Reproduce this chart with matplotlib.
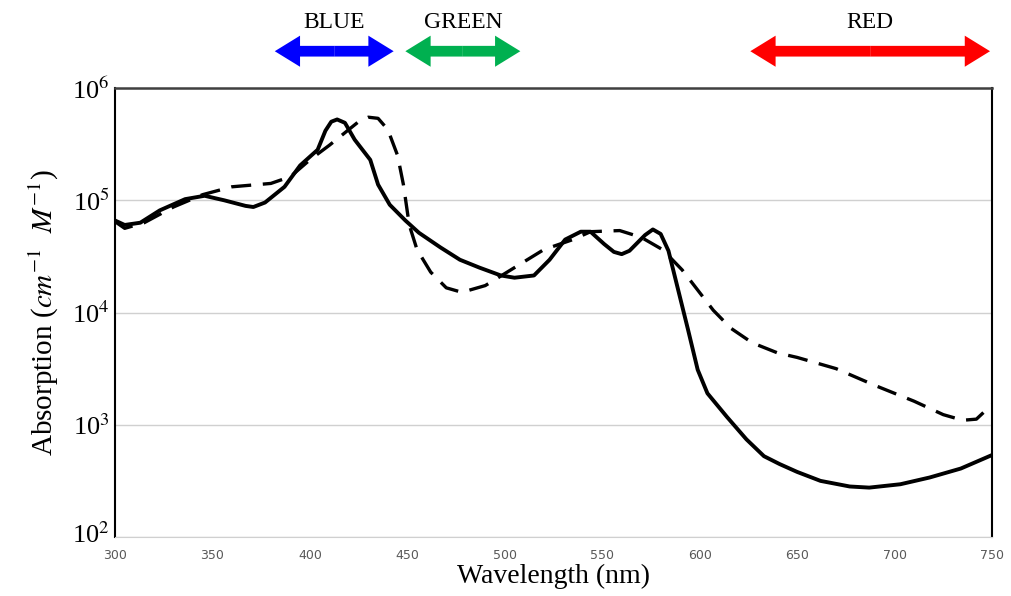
import matplotlib.pyplot as plt
from matplotlib.patches import FancyArrowPatch
from matplotlib.transforms import ScaledTranslation

# solid curve (wavelength nm, log10 absorption)
wl_solid = [300, 305, 313, 323, 336, 346, 356, 367, 371, 377, 387, 395, 404, 408, 411, 414,
            418, 423, 431, 435, 441, 449, 456, 467, 477, 487, 498, 505, 515, 523, 531,
            539, 544, 551, 556, 560, 564, 572, 576, 580, 584, 588, 594, 599, 604, 614, 624,
            633, 641, 650, 662, 677, 687, 703, 718, 734, 750]
log_solid = [4.82, 4.78, 4.80, 4.91, 5.01, 5.04, 5.00, 4.95, 4.94, 4.98, 5.12, 5.31, 5.45, 5.62, 5.70, 5.72,
             5.69, 5.54, 5.36, 5.14, 4.96, 4.82, 4.71, 4.58, 4.47, 4.40, 4.33, 4.31, 4.33, 4.47, 4.65,
             4.72, 4.72, 4.61, 4.54, 4.52, 4.55, 4.69, 4.74, 4.70, 4.55, 4.27, 3.85, 3.49, 3.28, 3.07, 2.87,
             2.72, 2.65, 2.58, 2.50, 2.45, 2.44, 2.47, 2.53, 2.61, 2.73]

# dashed curve
wl_dash = [300, 305, 315, 330, 345, 360, 380, 390, 400, 410, 420, 425, 430, 435, 440,
           445, 448, 451, 455, 462, 470, 478, 490, 505, 520, 535, 544, 559, 570, 581,
           591, 599, 607, 616, 627, 640, 650, 670, 690, 710, 725, 735, 742, 750]
log_dash = [4.81, 4.75, 4.80, 4.94, 5.05, 5.12, 5.15, 5.21, 5.36, 5.49, 5.63, 5.70, 5.74, 5.73, 5.63,
            5.40, 5.14, 4.78, 4.56, 4.36, 4.22, 4.18, 4.24, 4.40, 4.56, 4.65, 4.72, 4.73, 4.67, 4.56,
            4.38, 4.20, 4.02, 3.86, 3.73, 3.64, 3.60, 3.50, 3.35, 3.21, 3.09, 3.04, 3.05, 3.18]

bands = ["BLUE", "GREEN", "RED"]
band_colors = ["#0000ff", "#00b050", "#ff0000"]
band_start = [382, 449, 626]
band_end = [443, 508, 749]

plt.rcParams["font.family"] = ["Liberation Serif", "DejaVu Serif"]
plt.rcParams["mathtext.fontset"] = "stix"

fig = plt.figure(figsize=(10.11, 5.96), dpi=100)
ax = fig.add_axes([0.1137, 0.099, 0.8675, 0.7533])

ax.plot(wl_solid, [10 ** v for v in log_solid], color="black", lw=2.8,
        solid_joinstyle="round")
ax.plot(wl_dash, [10 ** v for v in log_dash], color="black", lw=2.4, ls=(0, (6, 3.5)))

ax.set_yscale("log")
ax.set_xlim(300, 750)
ax.set_ylim(1e2, 1e6)
ax.set_xticks(range(300, 751, 50))
ax.set_yticks([1e2, 1e3, 1e4, 1e5, 1e6])
ax.set_yticklabels([r"10$^{%d}$" % e for e in range(2, 7)])
ax.minorticks_off()
ax.grid(axis="y", color="#d0d0d0", lw=1)
ax.set_axisbelow(True)

for t in ax.get_xticklabels():
    t.set_fontfamily("DejaVu Sans")
    t.set_fontsize(9)
    t.set_color("#595959")
ax.tick_params(axis="x", length=0, pad=9)
ax.tick_params(axis="y", length=0, labelsize=19, pad=4)
# nudge the bottom exponent label up a few pixels so it clears the "300"
lab0 = ax.get_yticklabels()[0]
lab0.set_transform(lab0.get_transform() + ScaledTranslation(0, 3 / 72, fig.dpi_scale_trans))

ax.spines["left"].set_color("black")
ax.spines["left"].set_linewidth(1.5)
ax.spines["right"].set_color("black")
ax.spines["right"].set_linewidth(1.5)
ax.spines["top"].set_color("#404040")
ax.spines["top"].set_linewidth(1.8)
ax.spines["bottom"].set_color("#d0d0d0")

ax.set_xlabel("Wavelength (nm)", fontsize=20, labelpad=1)
ax.set_ylabel(r"Absorption ($cm^{-1}\ \ M^{-1}$)", fontsize=21, labelpad=8)

# colour band arrows above the axes, drawn as two filled halves from the middle
for name, c, a, b in zip(bands, band_colors, band_start, band_end):
    mid = (a + b) / 2
    for end in (a, b):
        arr = FancyArrowPatch((mid, 1.082), (end, 1.082), transform=ax.get_xaxis_transform(),
                              arrowstyle="simple,head_length=1.3,head_width=1.6,tail_width=0.55",
                              mutation_scale=14, color=c, lw=0, clip_on=False,
                              shrinkA=0, shrinkB=0)
        fig.add_artist(arr)
    ax.text(mid, 1.147, name, transform=ax.get_xaxis_transform(),
            ha="center", va="center", fontsize=17)

fig.savefig("out.png", dpi=100)
